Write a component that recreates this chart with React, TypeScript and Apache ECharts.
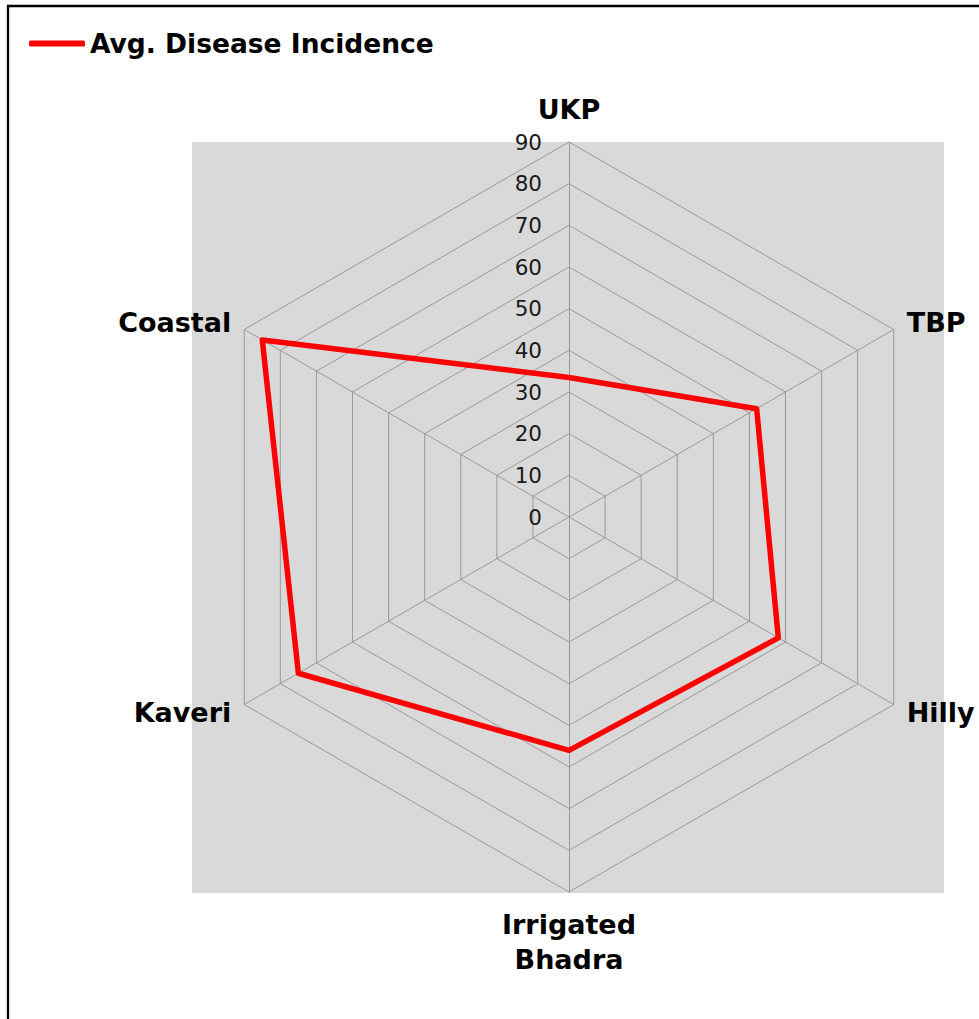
import React, { useEffect, useRef } from "react";
import * as echarts from "echarts";

// Categories in clockwise order starting from the top
const categories = ["UKP", "TBP", "Hilly", "Irrigated\nBhadra", "Kaveri", "Coastal"];
const avgDiseaseIncidence = [33.5, 52, 58, 56, 75, 85];
const seriesName = "Avg. Disease Incidence";
const axisMin = 0;
const axisMax = 90;
const axisStep = 10;

export default function App() {
  const ref = useRef<HTMLDivElement>(null);
  useEffect(() => {
    if (!ref.current) return;
    const chart = echarts.init(ref.current, undefined, { renderer: "svg" });
    // ECharts radar places indicators counter-clockwise; reverse (keeping first at top)
    const order = [0, ...categories.map((_, i) => i).slice(1).reverse()];
    const indicator = order.map((i) => ({ name: categories[i], min: axisMin, max: axisMax }));
    const values = order.map((i) => avgDiseaseIncidence[i]);
    const font = "'DejaVu Sans', Verdana, sans-serif";
    const center = [569, 517];
    const radius = 375;
    chart.setOption({
      animation: false,
      backgroundColor: "#ffffff",
      textStyle: { fontFamily: font },
      graphic: [
        {
          type: "rect",
          z: -10,
          silent: true,
          shape: { x: 192, y: 142, width: 752, height: 751 },
          style: { fill: "#d9d9d9" },
        },
        {
          type: "rect",
          z: -5,
          silent: true,
          shape: { x: 8, y: 6, width: 1100, height: 1100 },
          style: { fill: "none", stroke: "#000000", lineWidth: 2.3 },
        },
      ],
      legend: {
        left: 24,
        top: 25,
        icon: "roundRect",
        itemWidth: 56,
        itemHeight: 6,
        itemGap: 10,
        textStyle: { fontFamily: font, fontSize: 26.5, fontWeight: "bold", color: "#000000", padding: [0, 0, 0, 0] },
        data: [seriesName],
      },
      radar: {
        center,
        radius,
        startAngle: 90,
        shape: "polygon",
        splitNumber: 9,
        indicator,
        nameGap: 15,
        axisName: {
          color: "#000000",
          fontFamily: font,
          fontSize: 27,
          fontWeight: "bold",
          lineHeight: 35,
        },
        axisLine: { lineStyle: { color: "#999999", width: 1 } },
        splitLine: { lineStyle: { color: "#999999", width: 1 } },
        splitArea: { show: false },
      },
      polar: { center, radius },
      angleAxis: { show: false, startAngle: 90, min: 0, max: 360 },
      radiusAxis: {
        min: axisMin,
        max: axisMax,
        interval: axisStep,
        axisLine: { show: false },
        axisTick: { show: false },
        splitLine: { show: false },
        axisLabel: { show: true, fontFamily: font, fontSize: 21.5, color: "#1a1a1a", margin: 27 },
        z: 5,
      },
      series: [
        {
          name: seriesName,
          type: "radar",
          symbol: "none",
          lineStyle: { color: "#ff0000", width: 5.5 },
          itemStyle: { color: "#ff0000" },
          data: [{ value: values, name: seriesName }],
        },
      ],
    });
    return () => chart.dispose();
  }, []);
  return (
    <div
      ref={ref}
      style={{ position: "absolute", left: 0, top: 0, width: 979, height: 1019 }}
    />
  );
}
